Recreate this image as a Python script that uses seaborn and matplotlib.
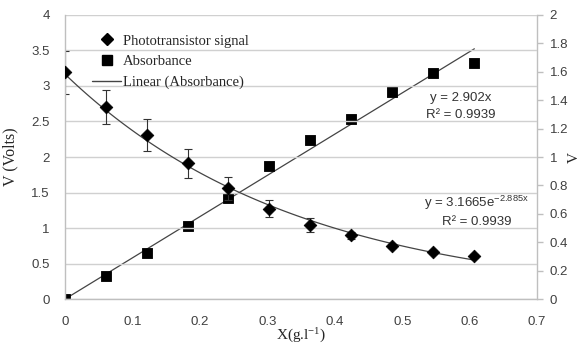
import matplotlib
matplotlib.use("Agg")
import matplotlib.pyplot as plt
import numpy as np
import pandas as pd
import seaborn as sns
from matplotlib.lines import Line2D

# ---- data ----
x_conc = [0.0, 0.061, 0.121, 0.182, 0.242, 0.303, 0.364, 0.424, 0.485, 0.546, 0.607]
signal_v = [3.19, 2.71, 2.31, 1.91, 1.56, 1.27, 1.04, 0.90, 0.75, 0.66, 0.61]
signal_err = [0.30, 0.24, 0.22, 0.20, 0.16, 0.12, 0.10, 0.05, 0.03, 0.03, 0.03]
absorbance = [0.0, 0.162, 0.326, 0.514, 0.713, 0.937, 1.12, 1.265, 1.46, 1.594, 1.664]
lin_slope = 2.902
exp_a, exp_b = 3.1665, -2.885
xticks = [0, 0.1, 0.2, 0.3, 0.4, 0.5, 0.6, 0.7]
left_ticks = [0, 0.5, 1, 1.5, 2, 2.5, 3, 3.5, 4]
right_ticks = [0, 0.2, 0.4, 0.6, 0.8, 1, 1.2, 1.4, 1.6, 1.8, 2]

sns.set_style("white")
plt.rcParams['font.family'] = ['Liberation Sans', 'DejaVu Sans']
plt.rcParams['mathtext.default'] = 'regular'

df = pd.DataFrame({"x": x_conc, "sig": signal_v, "err": signal_err, "abs": absorbance})
xfit = np.linspace(0, max(x_conc), 100)
fit = pd.DataFrame({"x": xfit,
                    "lin": lin_slope * xfit,
                    "exp": exp_a * np.exp(exp_b * xfit)})

fig = plt.figure(figsize=(5.8, 3.47), dpi=100)
ax = fig.add_axes([0.112, 0.138, 0.814, 0.819])
ax2 = ax.twinx()

grid_c = "#d0d0d0"
spine_c = "#bfbfbf"
tick_c = "#404040"

# left axis: phototransistor
ax.set_xlim(0, 0.7)
ax.set_ylim(0, 4)
ax.set_yticks(left_ticks)
ax.set_yticklabels([f"{t:g}" for t in left_ticks])
ax.set_xticks(xticks)
ax.set_xticklabels([f"{t:g}" for t in xticks])
for t in left_ticks:
    ax.axhline(t, color=grid_c, lw=1.0, zorder=0)

ax.errorbar(df["x"], df["sig"], yerr=df["err"], fmt="none", ecolor="#333333",
            elinewidth=0.8, capsize=3, capthick=0.8, zorder=2)
sns.lineplot(data=fit, x="x", y="exp", ax=ax, color="#444444", lw=0.9, zorder=3)
sns.scatterplot(data=df, x="x", y="sig", ax=ax, marker="D", s=42, color="black",
                edgecolor="black", zorder=4)

# right axis: absorbance
ax2.set_ylim(0, 2)
ax2.set_yticks(right_ticks)
ax2.set_yticklabels([f"{t:g}" for t in right_ticks])
sns.lineplot(data=fit, x="x", y="lin", ax=ax2, color="#444444", lw=0.9, zorder=3)
sns.scatterplot(data=df, x="x", y="abs", ax=ax2, marker="s", s=60, color="black",
                edgecolor="black", zorder=4)

for a in (ax, ax2):
    for s in a.spines.values():
        s.set_color(spine_c)
        s.set_linewidth(1.0)
    a.spines["top"].set_visible(False)
ax.spines["right"].set_visible(False)
ax2.spines["left"].set_visible(False)
ax2.spines["bottom"].set_visible(False)

ax.tick_params(axis="y", length=0, labelsize=9.5, labelcolor=tick_c, pad=11)
ax.tick_params(axis="x", length=0, labelsize=9.5, labelcolor=tick_c, pad=12)
ax2.tick_params(axis="y", direction="out", length=4, color=spine_c, width=1,
                labelsize=9.5, labelcolor=tick_c, pad=5)

ax.set_xlabel("X(g.l$^{-1}$)", family="Liberation Serif", fontsize=11, labelpad=-1)
ax.set_ylabel("V (Volts)", family="Liberation Serif", fontsize=11.5, labelpad=9)
ax2.set_ylabel("V", family="Liberation Serif", fontsize=11, labelpad=0)

# trendline equations
tc = "#333333"
ax2.text(0.587, 1.415, "y = 2.902x", fontsize=9.5, color=tc, ha="center", va="center")
ax2.text(0.587, 1.296, "R² = 0.9939", fontsize=9.5, color=tc, ha="center", va="center")
ax.text(0.61, 1.352, "y = 3.1665e$^{-2.885x}$", fontsize=9.5, color=tc,
        ha="center", va="center")
ax.text(0.61, 1.085, "R² = 0.9939", fontsize=9.5, color=tc, ha="center", va="center")

handles = [
    Line2D([], [], marker="D", color="black", ls="none", markersize=6),
    Line2D([], [], marker="s", color="black", ls="none", markersize=7),
    Line2D([], [], color="#444444", lw=1.0),
]
labels = ["Phototransistor signal", "Absorbance", "Linear (Absorbance)"]
ax.legend(handles, labels, loc="upper left", bbox_to_anchor=(0.045, 0.952),
          frameon=False, prop={"family": "Liberation Serif", "size": 10.5},
          handlelength=2.0, handletextpad=0.1, labelspacing=0.5, borderaxespad=0)
ax.set_zorder(ax2.get_zorder() + 1)
ax.patch.set_visible(False)

fig.savefig("out.png", dpi=100)
